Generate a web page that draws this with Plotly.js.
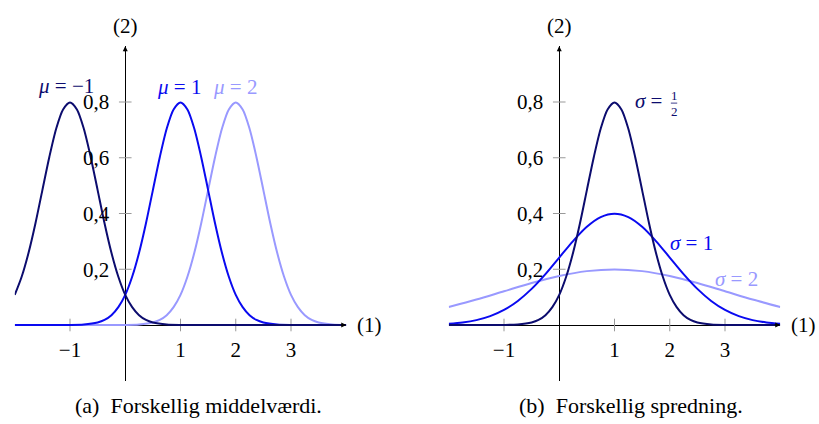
<!DOCTYPE html>
<html>
<head>
<meta charset="utf-8">
<script src="https://cdn.plot.ly/plotly-3.0.1.min.js"></script>
<style>html,body{margin:0;padding:0;background:#fff}#chart{width:819px;height:424px}</style>
</head>
<body>
<div id="chart"></div>
<script>
// ---- data ----
// (a) different means, sigma = 1/2
const xMuM1 = [-2,-1.875,-1.75,-1.625,-1.5,-1.375,-1.25,-1.125,-1,-0.875,-0.75,-0.625,-0.5,-0.375,-0.25,-0.125,0,0.125,0.25,0.375,0.5,0.75,1,1.5,2,2.5,3,3.5,4];
const yMuM1 = [0.108,0.173,0.259,0.365,0.484,0.602,0.704,0.773,0.798,0.773,0.704,0.602,0.484,0.365,0.259,0.173,0.108,0.064,0.035,0.018,0.009,0.002,0.0003,0,0,0,0,0,0];

const xMu1 = [-2,-1.5,-1,-0.75,-0.5,-0.375,-0.25,-0.125,0,0.125,0.25,0.375,0.5,0.625,0.75,0.875,1,1.125,1.25,1.375,1.5,1.625,1.75,1.875,2,2.125,2.25,2.375,2.5,2.75,3,3.5,4];
const yMu1 = [0,0,0.0003,0.002,0.009,0.018,0.035,0.064,0.108,0.173,0.259,0.365,0.484,0.602,0.704,0.773,0.798,0.773,0.704,0.602,0.484,0.365,0.259,0.173,0.108,0.064,0.035,0.018,0.009,0.002,0.0003,0,0];

const xMu2 = [-2,-1,0,0.25,0.5,0.625,0.75,0.875,1,1.125,1.25,1.375,1.5,1.625,1.75,1.875,2,2.125,2.25,2.375,2.5,2.625,2.75,2.875,3,3.125,3.25,3.375,3.5,3.75,4];
const yMu2 = [0,0,0.0003,0.002,0.009,0.018,0.035,0.064,0.108,0.173,0.259,0.365,0.484,0.602,0.704,0.773,0.798,0.773,0.704,0.602,0.484,0.365,0.259,0.173,0.108,0.064,0.035,0.018,0.009,0.002,0.0003];

// (b) different spreads, mu = 1
const xSigHalf = [-2,-1.5,-1,-0.75,-0.5,-0.375,-0.25,-0.125,0,0.125,0.25,0.375,0.5,0.625,0.75,0.875,1,1.125,1.25,1.375,1.5,1.625,1.75,1.875,2,2.125,2.25,2.375,2.5,2.75,3,3.5,4];
const ySigHalf = [0,0,0.0003,0.002,0.009,0.018,0.035,0.064,0.108,0.173,0.259,0.365,0.484,0.602,0.704,0.773,0.798,0.773,0.704,0.602,0.484,0.365,0.259,0.173,0.108,0.064,0.035,0.018,0.009,0.002,0.0003,0,0];

const xSig1 = [-2,-1.75,-1.5,-1.25,-1,-0.75,-0.5,-0.25,0,0.25,0.5,0.75,1,1.25,1.5,1.75,2,2.25,2.5,2.75,3,3.25,3.5,3.75,4];
const ySig1 = [0.0044,0.0091,0.0175,0.0317,0.054,0.0863,0.1295,0.1826,0.242,0.3011,0.3521,0.3867,0.3989,0.3867,0.3521,0.3011,0.242,0.1826,0.1295,0.0863,0.054,0.0317,0.0175,0.0091,0.0044];

const xSig2 = [-2,-1.5,-1,-0.5,0,0.5,1,1.5,2,2.5,3,3.5,4];
const ySig2 = [0.0648,0.0913,0.121,0.1506,0.176,0.1933,0.1995,0.1933,0.176,0.1506,0.121,0.0913,0.0648];

// ticks
const xTickVals = [-1,1,2,3];
const xTickText = ['\u22121','1','2','3'];
const yTickVals = [0.2,0.4,0.6,0.8];
const yTickText = ['0,2','0,4','0,6','0,8'];

// labels
const capA = '(a)\u2002Forskellig middelværdi.';
const capB = '(b)\u2002Forskellig spredning.';

// ---- styling ----
const NAVY = '#0c0c6e';
const BLUE = '#0a0af0';
const LIGHT = '#9999ff';
const FONT = 'Liberation Serif';
const FS = 21;

function curve(x, y, color, xa, ya) {
  return {x: x, y: y, xaxis: xa, yaxis: ya, type: 'scatter', mode: 'lines',
    line: {color: color, width: 2, shape: 'spline', smoothing: 0.8},
    hoverinfo: 'skip', showlegend: false};
}
function tickMarks(xa, ya) {
  return [
    {x: xTickVals, y: xTickVals.map(() => 0), xaxis: xa, yaxis: ya, type: 'scatter', mode: 'markers',
     marker: {symbol: 'line-ns', size: 9, line: {width: 1, color: '#999999'}}, hoverinfo: 'skip', showlegend: false},
    {x: yTickVals.map(() => 0), y: yTickVals, xaxis: xa, yaxis: ya, type: 'scatter', mode: 'markers',
     marker: {symbol: 'line-ew', size: 9, line: {width: 1, color: '#999999'}}, hoverinfo: 'skip', showlegend: false}
  ];
}

const data = [
  ...tickMarks('x', 'y'),
  ...tickMarks('x2', 'y2'),
  curve(xMu2, yMu2, LIGHT, 'x', 'y'),
  curve(xMu1, yMu1, BLUE, 'x', 'y'),
  curve(xMuM1, yMuM1, NAVY, 'x', 'y'),
  curve(xSig2, ySig2, LIGHT, 'x2', 'y2'),
  curve(xSig1, ySig1, BLUE, 'x2', 'y2'),
  curve(xSigHalf, ySigHalf, NAVY, 'x2', 'y2')
];

const H = 424, W = 819;
const yDom = [(H - 380.75) / H, (H - 46.25) / H];
const xPos = (H - 325) / H;

function xAxis(d0, d1) {
  return {domain: [d0 / W, d1 / W], range: [-2, 4], anchor: 'free', position: xPos,
    showgrid: false, zeroline: true, zerolinecolor: '#000', zerolinewidth: 1, showline: false,
    tickmode: 'array', tickvals: xTickVals, ticktext: xTickText, ticks: '', ticklabelstandoff: 10,
    tickfont: {family: FONT, size: FS, color: '#000'}, fixedrange: true};
}
function yAxis(pos) {
  return {domain: yDom, range: [-0.2, 1.0], anchor: 'free', position: pos / W,
    showgrid: false, zeroline: true, zerolinecolor: '#000', zerolinewidth: 1, showline: false,
    tickmode: 'array', tickvals: yTickVals, ticktext: yTickText, ticks: '', ticklabelstandoff: 16,
    tickfont: {family: FONT, size: FS, color: '#000'}, fixedrange: true};
}

function arrows(xr, yr) {
  return [
    {x: 4, y: 0, xref: xr, yref: yr, ax: -7, ay: 0, showarrow: true, arrowhead: 2, arrowsize: 1, arrowwidth: 1, arrowcolor: '#000', text: '', standoff: 0},
    {x: 0, y: 1.0, xref: xr, yref: yr, ax: 0, ay: 7, showarrow: true, arrowhead: 2, arrowsize: 1, arrowwidth: 1, arrowcolor: '#000', text: '', standoff: 0},
    {x: 4, y: 0, xref: xr, yref: yr, text: '(1)', showarrow: false, xanchor: 'left', yanchor: 'middle', xshift: 9, font: {family: FONT, size: FS, color: '#000'}},
    {x: 0, y: 1.0, xref: xr, yref: yr, text: '(2)', showarrow: false, xanchor: 'center', yanchor: 'bottom', yshift: 6, font: {family: FONT, size: FS, color: '#000'}}
  ];
}
function lab(text, x, y, xr, yr, color, xa) {
  return {x: x, y: y, xref: xr, yref: yr, text: text, showarrow: false, xanchor: xa || 'center', yanchor: 'middle',
    font: {family: FONT, size: FS, color: color}};
}

const annotations = [
  ...arrows('x', 'y'),
  ...arrows('x2', 'y2'),
  lab('<i>μ</i> = \u22121', -1.07, 0.858, 'x', 'y', NAVY),
  lab('<i>μ</i> = 1', 0.97, 0.853, 'x', 'y', BLUE),
  lab('<i>μ</i> = 2', 1.98, 0.853, 'x', 'y', LIGHT),
  lab('<i>σ</i> =', 1.9, 0.803, 'x2', 'y2', NAVY, 'right'),
  {x: 2.077, y: 0.796, xref: 'x2', yref: 'y2', text: '1', showarrow: false, xanchor: 'center', yanchor: 'middle', yshift: 8, font: {family: FONT, size: 13, color: NAVY}},
  {x: 2.077, y: 0.796, xref: 'x2', yref: 'y2', text: '2', showarrow: false, xanchor: 'center', yanchor: 'middle', yshift: -8, font: {family: FONT, size: 13, color: NAVY}},
  lab('<i>σ</i> = 1', 2.4, 0.294, 'x2', 'y2', BLUE),
  lab('<i>σ</i> = 2', 3.21, 0.165, 'x2', 'y2', LIGHT),
  {x: 198 / W, y: (H - 405) / H, xref: 'paper', yref: 'paper', text: capA, showarrow: false, xanchor: 'center', yanchor: 'middle', font: {family: FONT, size: 22, color: '#000'}},
  {x: 631 / W, y: (H - 405) / H, xref: 'paper', yref: 'paper', text: capB, showarrow: false, xanchor: 'center', yanchor: 'middle', font: {family: FONT, size: 22, color: '#000'}}
];

const shapes = [
  {type: 'line', xref: 'x2', yref: 'y2', x0: 2.02, x1: 2.135, y0: 0.796, y1: 0.796, line: {color: NAVY, width: 0.8}}
];

const layout = {
  width: W, height: H, margin: {l: 0, r: 0, t: 0, b: 0},
  paper_bgcolor: '#fff', plot_bgcolor: 'rgba(0,0,0,0)', showlegend: false,
  font: {family: FONT, size: FS, color: '#000'},
  xaxis: xAxis(14.75, 346.25), yaxis: yAxis(125.25),
  xaxis2: xAxis(448.75, 780.25), yaxis2: yAxis(559.25),
  annotations: annotations, shapes: shapes
};

Plotly.newPlot('chart', data, layout, {displayModeBar: false, staticPlot: true});
</script>
</body>
</html>
